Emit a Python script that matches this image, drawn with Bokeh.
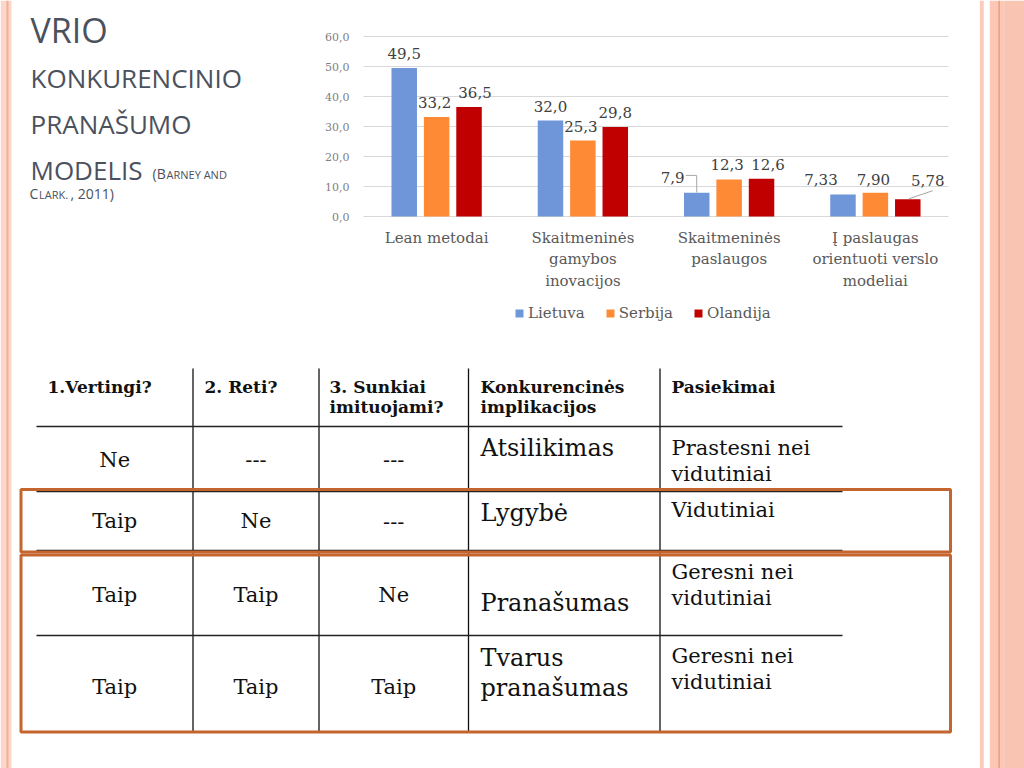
from bokeh.plotting import figure
from bokeh.models import (Range1d, FixedTicker, Legend, LegendItem, ColumnDataSource,
                          LinearAxis)
from bokeh.core.properties import value
from bokeh.embed import file_html
from bokeh.resources import INLINE

# ---------------- data ----------------
categories = ["Lean metodai", "Skaitmeninės\ngamybos\ninovacijos",
              "Skaitmeninės\npaslaugos", "Į paslaugas\norientuoti verslo\nmodeliai"]
series_names = ["Lietuva", "Serbija", "Olandija"]
lietuva = [49.5, 32.0, 7.9, 7.33]
serbija = [33.2, 25.3, 12.3, 7.90]
olandija = [36.5, 29.8, 12.6, 5.78]
lietuva_labels = ["49,5", "32,0", "7,9", "7,33"]
serbija_labels = ["33,2", "25,3", "12,3", "7,90"]
olandija_labels = ["36,5", "29,8", "12,6", "5,78"]
y_ticks = [0, 10, 20, 30, 40, 50, 60]
y_tick_labels = ["0,0", "10,0", "20,0", "30,0", "40,0", "50,0", "60,0"]

title_lines = ["VRIO", "KONKURENCINIO", "PRANAŠUMO", "MODELIS"]

table_header = ["1.Vertingi?", "2. Reti?", "3. Sunkiai\nimituojami?",
                "Konkurencinės\nimplikacijos", "Pasiekimai"]
col_vertingi = ["Ne", "Taip", "Taip", "Taip"]
col_reti = ["---", "Ne", "Taip", "Taip"]
col_sunkiai = ["---", "---", "Ne", "Taip"]
col_implikacijos = ["Atsilikimas", "Lygybė", "Pranašumas", "Tvarus\npranašumas"]
col_pasiekimai = ["Prastesni nei\nvidutiniai", "Vidutiniai",
                  "Geresni nei\nvidutiniai", "Geresni nei\nvidutiniai"]

# ---------------- styles / layout (reference pixels) ----------------
colors = ["#6F96D8", "#FF8A36", "#C00000"]
SERIF = value("DejaVu Serif")
SANS = value("Open Sans")
TITLE_COLOR = "#4B515D"
ORANGE = "#C4652E"
INK = "#111111"

W, H = 1024, 768
X0, Y0 = 0, 0
CH_LEFT, CAT_W, ZERO_Y, PX_PER_UNIT = 363.0, 146.25, 216.0, 3.0


def mid(baseline, size, k=0.365):
    """visual centre of capitals for a given baseline and font size (px)"""
    return baseline - k * size


p = figure(width=W, height=H, x_range=Range1d(X0, X0 + W), y_range=Range1d(Y0 + H, Y0),
           x_axis_location=None, y_axis_location=None, toolbar_location=None,
           output_backend="svg", min_border=0)
p.grid.visible = False
p.outline_line_color = None
p.background_fill_color = "white"
p.border_fill_color = "white"

# chart scales inside the slide
p.extra_x_ranges = {"cx": Range1d((X0 - CH_LEFT) / CAT_W, (X0 + W - CH_LEFT) / CAT_W)}
p.extra_y_ranges = {"cy": Range1d((ZERO_Y - (Y0 + H)) / PX_PER_UNIT, (ZERO_Y - Y0) / PX_PER_UNIT)}

# ---------------- slide decoration ----------------
p.quad(left=[0, 979.3, 989.3, 1003.7], right=[11, 983.3, 1003.7, 1024],
       top=[0] * 4, bottom=[768] * 4,
       fill_color=["#FCD6CA", "#FBCCBC", "#FBC8B6", "#F9C4B1"], line_color=None)
p.segment(x0=[7, 998.6], x1=[7, 998.6], y0=[0, 0], y1=[768, 768],
          line_color=["#F2AF98", "#EC9676"], line_width=[2, 1.3])

# ---------------- title ----------------
title_sizes = [34, 26, 26, 26]
title_base = [41.7, 87.3, 133.3, 178.5]
for t, s, b in zip(title_lines, title_sizes, title_base):
    p.text(x=[30], y=[mid(b, s)], text=[t], text_font=SANS, text_font_size=f"{s}px",
           text_color=TITLE_COLOR, text_baseline="middle")
sc_runs = [("(B", 14, 152, 178.5), ("ARNEY AND", 11, 166, 178.5),
           ("C", 14, 29, 198), ("LARK.", 11, 38.5, 198), (", 2011)", 14, 70, 198)]
for t, s, x0, b in sc_runs:
    p.text(x=[x0], y=[mid(b, s)], text=[t], text_font=SANS, text_font_size=f"{s}px",
           text_color=TITLE_COLOR, text_baseline="middle")

# ---------------- chart ----------------
n = len(categories)
xt = [i + 0.5 for i in range(n)]
p.segment(x0=[0] * len(y_ticks), x1=[n] * len(y_ticks), y0=y_ticks, y1=y_ticks,
          x_range_name="cx", y_range_name="cy", line_color="#D9D9D9", line_width=1)

ya = LinearAxis(x_range_name="cx", y_range_name="cy", fixed_location=0,
                ticker=FixedTicker(ticks=y_ticks),
                major_label_overrides={k: v for k, v in zip(y_ticks, y_tick_labels)},
                axis_line_color=None, major_tick_line_color=None, minor_tick_line_color=None,
                major_label_text_font="DejaVu Serif", major_label_text_font_size="11px",
                major_label_text_color="#7F7F7F", major_label_standoff=8)
p.add_layout(ya, "left")

xa = LinearAxis(x_range_name="cx", y_range_name="cy", fixed_location=0,
                ticker=FixedTicker(ticks=xt),
                major_label_overrides={k: v for k, v in zip(xt, categories)},
                axis_line_color=None, major_tick_line_color=None, minor_tick_line_color=None,
                major_label_text_font="DejaVu Serif", major_label_text_font_size="15px",
                major_label_text_color="#595959", major_label_text_line_height=1.2,
                major_label_standoff=6)
p.add_layout(xa, "below")

PX_X = 1 / CAT_W
PX_Y = 1 / PX_PER_UNIT
offsets = [-32.4 * PX_X, 0.0, 32.4 * PX_X]
bar_w = 25.5 * PX_X
all_vals = [lietuva, serbija, olandija]
all_labels = [lietuva_labels, serbija_labels, olandija_labels]
LABEL_SIZE = 15
label_dx = [[0, 0, -24, -22], [-2, -2, -2, -2], [6, 0, 6.5, 20]]
label_dy = [[9, 9, 9.6, 9.7], [9, 9, 10, 8], [9, 9, 9, 12.7]]   # baseline gap above bar

items = []
for k in range(3):
    xs = [xt[i] + offsets[k] for i in range(n)]
    src = ColumnDataSource(dict(x=xs, top=all_vals[k], lab=all_labels[k],
                                dx=label_dx[k],
                                dy=[-(d + 0.365 * LABEL_SIZE) for d in label_dy[k]]))
    r = p.vbar(x="x", top="top", bottom=0, width=bar_w, source=src,
               x_range_name="cx", y_range_name="cy",
               fill_color=colors[k], line_color=None)
    p.text(x="x", y="top", text="lab", x_offset="dx", y_offset="dy", source=src,
           x_range_name="cx", y_range_name="cy",
           text_align="center", text_baseline="middle", text_font=SERIF,
           text_font_size=f"{LABEL_SIZE}px", text_color="#404040")
    items.append(LegendItem(label=series_names[k], renderers=[r]))

# leader lines for the displaced labels
bx3 = xt[2] + offsets[0]
v3 = lietuva[2]
p.line(x=[bx3 - 11 * PX_X, bx3, bx3], y=[v3 + 5.8, v3 + 5.8, v3 + 0.1],
       x_range_name="cx", y_range_name="cy", line_color="#A6A6A6", line_width=1)
bx4 = xt[3] + offsets[2]
v4 = olandija[3]
p.line(x=[bx4 + 1 * PX_X, bx4 + 25 * PX_X], y=[v4 + 0.1, v4 + 8.5 * PX_Y],
       x_range_name="cx", y_range_name="cy", line_color="#A6A6A6", line_width=1)

leg = Legend(items=items, orientation="horizontal", location=(514 - X0, Y0 + H - 322),
             border_line_color=None, background_fill_alpha=0,
             label_text_font="DejaVu Serif", label_text_font_size="15px",
             label_text_color="#595959", glyph_width=10, glyph_height=10,
             label_standoff=4, spacing=20, padding=0, margin=0)
p.add_layout(leg)

# ---------------- table ----------------
col_x = [192.5, 318.5, 468, 659.5]
row_y = [426, 491, 550, 635]
p.segment(x0=col_x, x1=col_x, y0=[368] * 4, y1=[732] * 4, line_color=INK, line_width=1.3)
p.segment(x0=[36] * 4, x1=[842] * 4, y0=row_y, y1=row_y, line_color="#222222", line_width=1.6)
p.quad(left=[20.5, 20.5], right=[950, 950], top=[489, 554.5], bottom=[551.5, 731.5],
       fill_color=None, line_color=ORANGE, line_width=3)

HEAD_SIZE, BODY_SIZE, IMPL_SIZE = 17, 21, 24
head_x = [47, 204, 329, 480, 671]
for hx, h in zip(head_x, table_header):
    for j, ln in enumerate(h.split("\n")):
        p.text(x=[hx], y=[mid(393 + 20 * j, HEAD_SIZE)], text=[ln], text_font=SERIF,
               text_font_size=f"{HEAD_SIZE}px", text_font_style="bold", text_color=INK,
               text_baseline="middle")

center_x = [114.25, 255.5, 393.25]
body_base = [466.7, 528.5, 602.3, 694]
for cx, col in zip(center_x, [col_vertingi, col_reti, col_sunkiai]):
    p.text(x=[cx] * 4, y=[mid(b, BODY_SIZE) for b in body_base], text=col, text_font=SERIF,
           text_font_size=f"{BODY_SIZE}px", text_color=INK, text_align="center",
           text_baseline="middle")

impl_base = [456, 521.7, 611.7, 666]
for b, t in zip(impl_base, col_implikacijos):
    for j, ln in enumerate(t.split("\n")):
        p.text(x=[480], y=[mid(b + 30.7 * j, IMPL_SIZE)], text=[ln], text_font=SERIF,
               text_font_size=f"{IMPL_SIZE}px", text_color=INK, text_baseline="middle")

pas_base = [455, 516.7, 579.3, 663.3]
for b, t in zip(pas_base, col_pasiekimai):
    for j, ln in enumerate(t.split("\n")):
        p.text(x=[671], y=[mid(b + 26 * j, BODY_SIZE)], text=[ln], text_font=SERIF,
               text_font_size=f"{BODY_SIZE}px", text_color=INK, text_baseline="middle")

open("out.html", "w").write(file_html(p, INLINE))
